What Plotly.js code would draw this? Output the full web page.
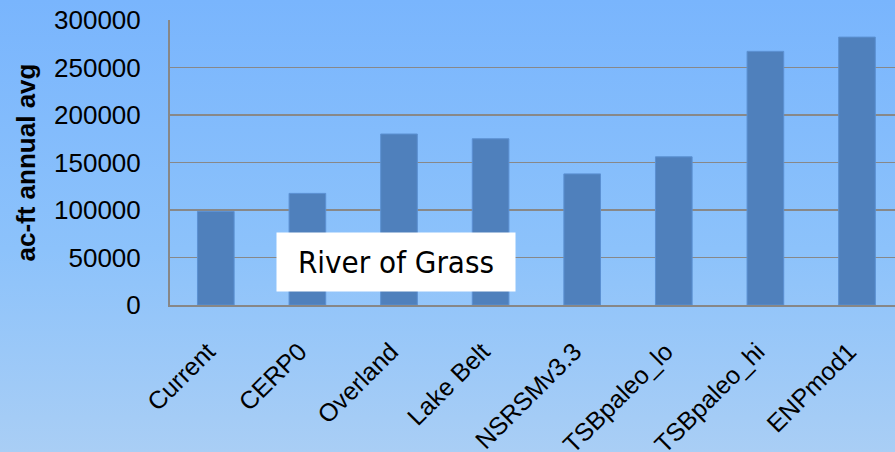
<!DOCTYPE html>
<html>
<head>
<meta charset="utf-8">
<script src="https://cdn.plot.ly/plotly-3.0.1.min.js"></script>
<style>
  html, body { margin: 0; padding: 0; }
  #chart {
    width: 895px; height: 452px;
    background: linear-gradient(to bottom, #79b5fd 0%, #8cc2fb 55%, #a9cef5 100%);
  }
</style>
</head>
<body>
<div id="chart"></div>
<script>
// Annual average flow by scenario (acre-feet)
const scenarios = ["Current", "CERP0", "Overland", "Lake Belt", "NSRSMv3.3", "TSBpaleo_lo", "TSBpaleo_hi", "ENPmod1"];
const flowValues = [98500, 117500, 180000, 175000, 138000, 156000, 267000, 282000];
const yTickValues = [0, 50000, 100000, 150000, 200000, 250000, 300000];
const yTickLabels = ["0", "50000", "100000", "150000", "200000", "250000", "300000"];
const yAxisTitle = "ac-ft annual avg";
const boxLabel = "River of Grass";

const baseFont = "Liberation Sans, Arial, sans-serif";

const trace = {
  type: "bar",
  x: scenarios,
  y: flowValues,
  width: 0.4,
  marker: { color: "#4f80bc", line: { color: "#5b90d2", width: 1 } },
  hoverinfo: "x+y"
};

const layout = {
  width: 895,
  height: 452,
  margin: { l: 170, r: 0, t: 20, b: 147 },
  paper_bgcolor: "rgba(0,0,0,0)",
  plot_bgcolor: "rgba(0,0,0,0)",
  showlegend: false,
  bargap: 0.6,
  xaxis: {
    type: "category",
    range: [-0.5, 7.415],
    tickangle: -45,
    tickfont: { family: baseFont, size: 25, color: "#000" },
    ticklabelstandoff: 20,
    ticklabelshift: -8,
    showgrid: false,
    showline: true,
    linecolor: "#878787",
    linewidth: 2,
    ticks: "",
    fixedrange: true
  },
  yaxis: {
    range: [0, 300000],
    tickvals: yTickValues,
    ticktext: yTickLabels,
    tickfont: { family: baseFont, size: 26, color: "#000" },
    ticklabelstandoff: 22,
    showgrid: true,
    gridcolor: "#888888",
    gridwidth: 1.8,
    showline: true,
    linecolor: "#878787",
    linewidth: 2,
    zeroline: false,
    ticks: "",
    fixedrange: true
  },
  annotations: [
    {
      text: "<b>" + yAxisTitle + "</b>",
      xref: "paper", yref: "paper",
      x: -0.2, y: 0.5,
      xanchor: "center", yanchor: "middle",
      textangle: -90,
      showarrow: false,
      font: { family: baseFont, size: 26, color: "#000" }
    },
    {
      text: boxLabel,
      xref: "paper", yref: "paper",
      x: 0.3117, y: 0.1526,
      xanchor: "center", yanchor: "middle",
      width: 238, height: 58,
      align: "center", valign: "middle",
      bgcolor: "#ffffff",
      borderpad: 0,
      showarrow: false,
      font: { family: "DejaVu Sans Condensed, Tahoma, sans-serif", size: 31, color: "#000" }
    }
  ]
};

Plotly.newPlot("chart", [trace], layout, { displayModeBar: false, staticPlot: true });
</script>
</body>
</html>
